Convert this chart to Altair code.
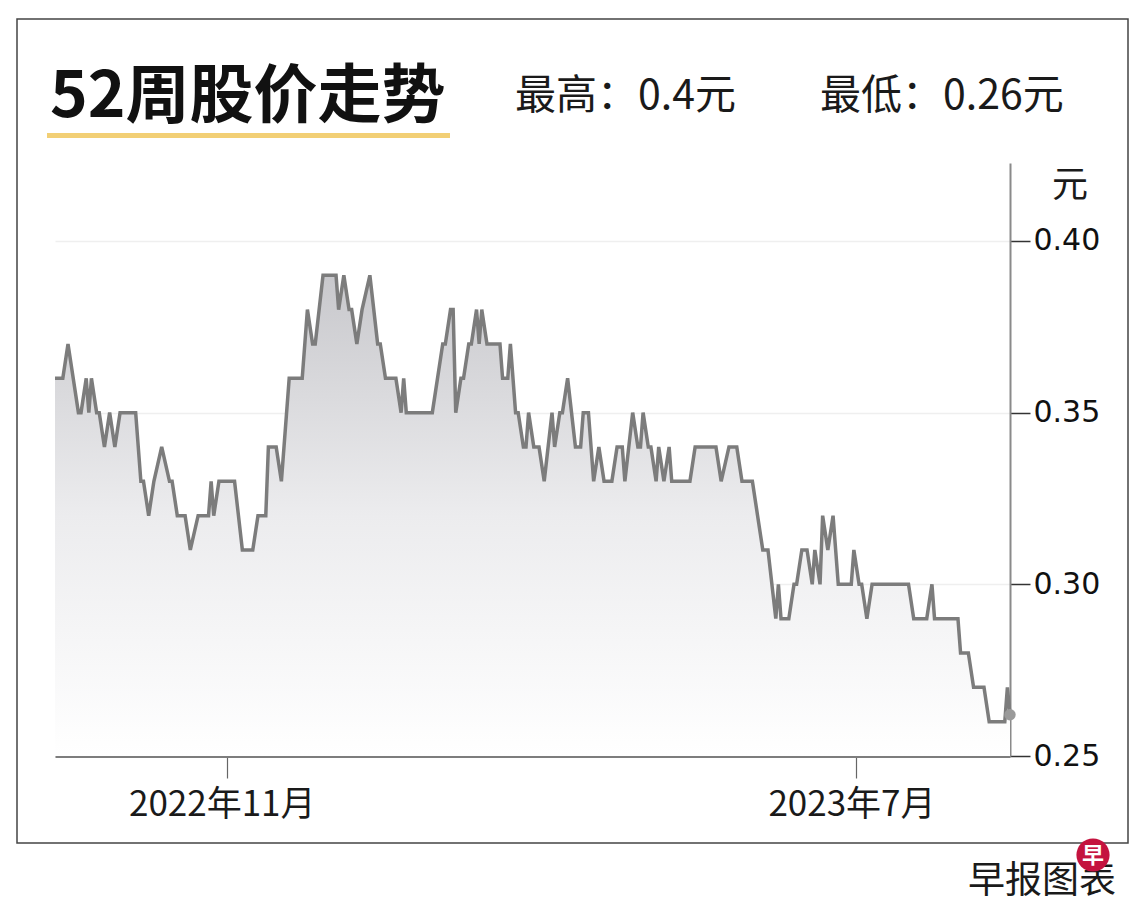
import altair as alt
import pandas as pd

# 52-week closing prices (vertices of the price line)
START = "2022-08-27"
DAYS = [0, 3, 5, 7, 9, 10, 12, 13, 14, 16,
        17, 19, 21, 23, 25, 31, 33, 34, 36, 38,
        41, 44, 45, 47, 50, 52, 55, 59, 60, 61,
        63, 69, 72, 76, 78, 81, 82, 85, 87, 90,
        95, 97, 99, 100, 103, 108, 109, 111, 113, 114,
        116, 118, 121, 124, 125, 127, 131, 133, 134, 135,
        145, 149, 150, 152, 153, 154, 156, 157, 159, 160,
        162, 163, 164, 166, 171, 172, 174, 175, 177, 178,
        180, 181, 182, 184, 186, 188, 191, 192, 194, 195,
        197, 200, 202, 203, 205, 207, 209, 211, 214, 216,
        218, 219, 222, 224, 225, 226, 228, 229, 231, 232,
        234, 236, 237, 244, 246, 254, 256, 259, 262, 264,
        268, 270, 272, 274, 277, 278, 279, 282, 284, 285,
        287, 289, 291, 292, 294, 295, 297, 299, 301, 306,
        307, 309, 310, 312, 314, 328, 330, 335, 337, 338,
        347, 348, 351, 353, 357, 359, 365, 366, 367]
PRICES = [.36, .36, .37, .36, .35, .35, .36, .35, .36, .35,
          .35, .34, .35, .34, .35, .35, .33, .33, .32, .33,
          .34, .33, .33, .32, .32, .31, .32, .32, .33, .32,
          .33, .33, .31, .31, .32, .32, .34, .34, .33, .36,
          .36, .38, .37, .37, .39, .39, .38, .39, .38, .38,
          .37, .38, .39, .37, .37, .36, .36, .35, .36, .35,
          .35, .37, .37, .38, .38, .35, .36, .36, .37, .37,
          .38, .37, .38, .37, .37, .36, .36, .37, .35, .35,
          .34, .34, .35, .34, .34, .33, .35, .34, .35, .35,
          .36, .34, .34, .35, .35, .33, .34, .33, .33, .34,
          .34, .33, .35, .34, .34, .35, .34, .34, .33, .34,
          .33, .34, .33, .33, .34, .34, .33, .34, .34, .33,
          .33, .32, .31, .31, .29, .30, .29, .29, .30, .30,
          .31, .31, .30, .31, .30, .32, .31, .32, .30, .30,
          .31, .30, .30, .29, .30, .30, .29, .29, .30, .29,
          .29, .28, .28, .27, .27, .26, .26, .27, .262]

Y_TICKS = [0.25, 0.30, 0.35, 0.40]
TITLE = "52周股价走势"
HIGH_TEXT = "最高：0.4元"
LOW_TEXT = "最低：0.26元"
UNIT = "元"
SOURCE = "早报图表"
LOGO = "早"

assert len(DAYS) == len(PRICES)

df = pd.DataFrame({
    "date": pd.Timestamp(START) + pd.to_timedelta(DAYS, unit="D"),
    "price": PRICES,
})
last = df.tail(1)
one = pd.DataFrame({"k": [0]})

W, H = 955, 593
CJK = "Noto Sans CJK SC"

x_scale = alt.Scale(
    domain=[alt.DateTime(year=2022, month=8, date=27),
            alt.DateTime(year=2023, month=8, date=29)],
    nice=False,
)
y_scale = alt.Scale(domain=[0.25, 0.4227], zero=False, nice=False)

x_axis = alt.Axis(
    values=[alt.DateTime(year=2022, month=11, date=1),
            alt.DateTime(year=2023, month=7, date=1)],
    labelExpr="timeFormat(datum.value, '%Y') + '年' + timeFormat(datum.value, '%-m') + '月'",
    domainColor="#7d7d7d", domainWidth=3,
    tickColor="#666666", tickWidth=1.2, tickSize=22,
    labelFont=CJK, labelFontSize=35, labelColor="#1a1a1a", labelPadding=9,
    labelOffset=-5, labelLimit=400, labelOverlap=False,
    grid=False, title=None,
)
y_axis = alt.Axis(
    orient="right", values=Y_TICKS, format=".2f",
    domainColor="#8a8a8a", domainWidth=2,
    tickColor="#333333", tickWidth=1.5, tickSize=20,
    labelFont="DejaVu Sans", labelFontSize=30, labelColor="#111111", labelPadding=3,
    grid=True, gridColor="#efefef", gridWidth=1.5, title=None,
)

x_enc = alt.X("date:T", scale=x_scale, axis=x_axis)
y_enc = alt.Y("price:Q", scale=y_scale, axis=y_axis)

area = alt.Chart(df).mark_area(
    color=alt.Gradient(
        gradient="linear",
        stops=[alt.GradientStop(color="#c8c8cc", offset=0),
               alt.GradientStop(color="#ececee", offset=0.5),
               alt.GradientStop(color="#ffffff", offset=1)],
        x1=1, x2=1, y1=0, y2=1,
    )
).encode(x=x_enc, y=y_enc, y2=alt.datum(0.25))

line = alt.Chart(df).mark_line(color="#7c7c7c", strokeWidth=3.5).encode(x=x_enc, y=y_enc)

dot = alt.Chart(last).mark_point(filled=True, color="#9a9a9a", opacity=1, size=130).encode(
    x=x_enc, y=y_enc
)


def label(text, x, y, size, weight="normal", align="left", color="#1a1a1a", baseline="alphabetic"):
    return alt.Chart(one).mark_text(
        text=text, font=CJK, fontSize=size, fontWeight=weight,
        align=align, baseline=baseline, color=color,
    ).encode(x=alt.value(x), y=alt.value(y))


frame = alt.Chart(one).mark_rect(
    fill="white", fillOpacity=0, stroke="#444444", strokeWidth=1.5
).encode(x=alt.value(-38), x2=alt.value(1073), y=alt.value(-144), y2=alt.value(680))

underline = alt.Chart(one).mark_rect(color="#f2cf75").encode(
    x=alt.value(-8), x2=alt.value(395), y=alt.value(-30), y2=alt.value(-25)
)

logo = alt.Chart(one).mark_point(
    shape="circle", filled=True, color="#c4133f", opacity=1, size=1100
).encode(x=alt.value(1038), y=alt.value(692))

chart = alt.layer(
    frame,
    area,
    line,
    dot,
    underline,
    label(TITLE, -5, -46, 64, weight="bold", color="#111111"),
    label(HIGH_TEXT, 460, -54, 41),
    label(LOW_TEXT, 765, -54, 41),
    label(UNIT, 1015, 34, 36, align="center"),
    label(SOURCE, 913, 730, 37),
    logo,
    label(LOGO, 1038, 693, 22, weight="bold", align="center", color="white", baseline="middle"),
).properties(
    width=W,
    height=H,
    autosize=alt.AutoSizeParams(type="none"),
    padding={"left": 47, "top": 155, "right": 122, "bottom": 144},
    background="white",
).configure_view(stroke=None)

chart.save("out.html", embed_options={"renderer": "svg", "actions": False})
